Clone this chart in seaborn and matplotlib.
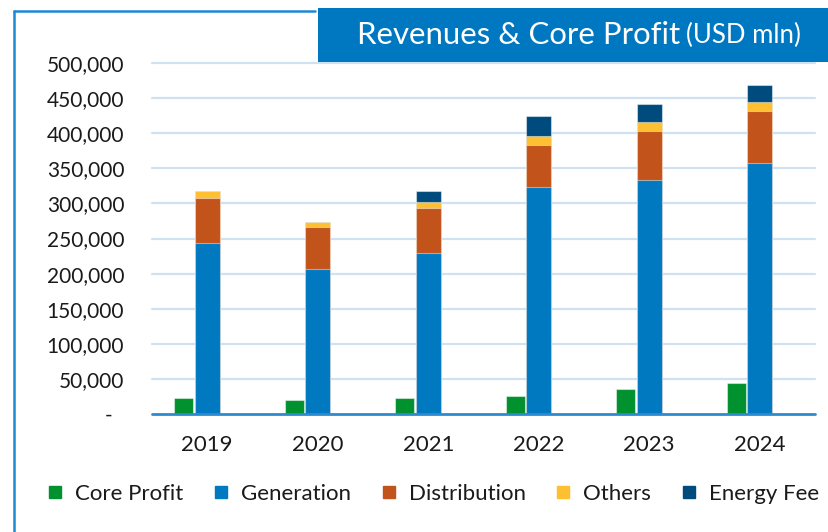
import numpy as np
import pandas as pd
import matplotlib
matplotlib.use("Agg")
import matplotlib.pyplot as plt
import seaborn as sns
from matplotlib.lines import Line2D
from matplotlib.patches import Rectangle
from matplotlib.transforms import ScaledTranslation

# ---- data (USD mln) ----
years = ["2019", "2020", "2021", "2022", "2023", "2024"]
core_profit = [23200, 20300, 23200, 26000, 35500, 44000]
generation = [243000, 206000, 229500, 324000, 334000, 357500]
distribution = [65000, 60500, 63500, 58500, 68500, 74000]
others = [9500, 7000, 9000, 13000, 13000, 12500]
energy_fee = [0, 0, 15000, 29500, 26500, 24500]
yticks = [0, 50000, 100000, 150000, 200000, 250000, 300000, 350000, 400000, 450000, 500000]
ytick_labels = ["-", "50,000", "100,000", "150,000", "200,000", "250,000",
                "300,000", "350,000", "400,000", "450,000", "500,000"]
series_names = ["Core Profit", "Generation", "Distribution", "Others", "Energy Fee"]

colors = {
    "Core Profit": "#01912F",
    "Generation": "#0079C1",
    "Distribution": "#C2531A",
    "Others": "#FEC031",
    "Energy Fee": "#004B7D",
}

df = pd.DataFrame({
    "pos": np.arange(len(years), dtype=float),
    "core": core_profit,
    "gen": generation,
    "dist": distribution,
    "oth": others,
    "en": energy_fee,
})
df["cum_dist"] = df["gen"] + df["dist"]
df["cum_oth"] = df["cum_dist"] + df["oth"]
df["cum_en"] = df["cum_oth"] + df["en"]

sns.set_style("white")
plt.rcParams["font.family"] = ["Lato", "DejaVu Sans"]
text_color = "#1a1a1a"

W, H = 829, 532
fig = plt.figure(figsize=(W / 100, H / 100), dpi=100)
ax = fig.add_axes([152 / W, 1 - 414 / H, (815 - 152) / W, (414 - 63) / H])

edge = (1, 1, 1, 0.45)
gen_w = 0.226
core_w = 0.175
core_off = -0.213

# stacked bars: draw cumulative totals from the top down
for col, name in [("cum_en", "Energy Fee"), ("cum_oth", "Others"),
                  ("cum_dist", "Distribution"), ("gen", "Generation")]:
    sns.barplot(data=df, x="pos", y=col, native_scale=True, orient="x",
                width=gen_w, color=colors[name], saturation=1,
                edgecolor=edge, linewidth=0.8, errorbar=None, ax=ax, zorder=3)

core_df = pd.DataFrame({"pos": df["pos"] + core_off, "core": df["core"]})
sns.barplot(data=core_df, x="pos", y="core", native_scale=True, orient="x",
            width=core_w, color=colors["Core Profit"], saturation=1,
            edgecolor=edge, linewidth=0.8, errorbar=None, ax=ax, zorder=3)

ax.set_xlim(-0.5, len(years) - 0.5)
ax.set_ylim(0, 500000)
ax.set_xticks(np.arange(len(years)))
ax.set_xticklabels(years, fontsize=16, color=text_color)
ax.set_yticks(yticks)
ax.set_yticklabels(ytick_labels, fontsize=15, color=text_color)
ax.set_xlabel("")
ax.set_ylabel("")
ax.tick_params(axis="y", length=0, pad=20)
ax.tick_params(axis="x", length=0, pad=15)
for s in ax.spines.values():
    s.set_visible(False)

# shift the "-" zero label left like the accounting format
zero_lbl = ax.get_yticklabels()[0]
zero_lbl.set_transform(zero_lbl.get_transform() + ScaledTranslation(-12 / 100, 0, fig.dpi_scale_trans))

for yv in yticks[1:]:
    ax.axhline(yv, color="#CFE2F3", lw=1.6, zorder=0, clip_on=False)
ax.axhline(0, color="#2E8AD0", lw=2.0, zorder=4, clip_on=False)

# frame lines (blue) on left & top
fig.add_artist(Line2D([14 / W, 14 / W], [0, 1 - 11 / H], transform=fig.transFigure,
                      color="#1E88D6", lw=1.8))
fig.add_artist(Line2D([14 / W, 315 / W], [1 - 11 / H, 1 - 11 / H], transform=fig.transFigure,
                      color="#1E88D6", lw=1.8))

# title box
fig.add_artist(Rectangle((318 / W, 1 - 62 / H), 1 - 318 / W, 54 / H,
                         transform=fig.transFigure, color="#0078C1", lw=0))
t1 = fig.text(357 / W, 1 - 43.5 / H, "Revenues & Core Profit", color="white",
              fontsize=22.4, ha="left", va="baseline")
fig.canvas.draw()
bb = t1.get_window_extent()
fig.text((bb.x1 + 6) / W, 1 - 43.5 / H, "(USD mln)", color="white",
         fontsize=18.5, ha="left", va="baseline")

# legend
handles = [Line2D([0], [0], marker="s", linestyle="none", markersize=8,
                  markerfacecolor=colors[n], markeredgecolor=colors[n]) for n in series_names]
fig.legend(handles, series_names, loc="center", bbox_to_anchor=(0.523, 1 - 494 / H),
           ncol=5, frameon=False, fontsize=16, handlelength=0.6, handletextpad=0.6,
           columnspacing=1.4, labelcolor=text_color)

fig.savefig("out.png", dpi=100)
